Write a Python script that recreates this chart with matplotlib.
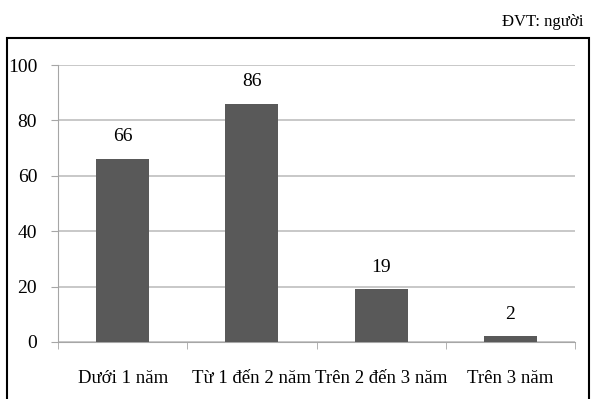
import numpy as np
import matplotlib
matplotlib.use("Agg")
import matplotlib.pyplot as plt
from matplotlib.patches import Rectangle

categories = ["Dưới 1 năm", "Từ 1 đến 2 năm", "Trên 2 đến 3 năm", "Trên 3 năm"]
values = [66, 86, 19, 2]
yticks = [0, 20, 40, 60, 80, 100]

plt.rcParams['font.family'] = ['Liberation Serif', 'DejaVu Serif']

W, H = 594, 399
fig = plt.figure(figsize=(W / 100, H / 100), dpi=100)

# outer frame
fig.patches.append(Rectangle((7 / W, -0.05), 582 / W, (H - 38) / H + 0.05,
                             transform=fig.transFigure, fill=False,
                             edgecolor='black', linewidth=1.5))
fig.text(583 / W, 1 - 22 / H, "ĐVT: người", ha='right', va='center', fontsize=12)

ax = fig.add_axes([58 / W, 57 / H, (575 - 58) / W, (342 - 65) / H])
x = np.arange(len(categories))
bars = ax.bar(x, values, width=0.41, color='#595959', zorder=3)
for xi, v in zip(x, values):
    ax.text(xi, v + 5, str(v), ha='center', va='bottom', fontsize=14)

ax.set_xlim(-0.5, len(categories) - 0.5)
ax.set_ylim(0, 100)
ax.set_yticks(yticks)
ax.set_yticklabels([str(t) for t in yticks], fontsize=14)
ax.set_xticks(x)
ax.set_xticklabels(categories, fontsize=13.5)
ax.set_xticks(np.arange(-0.5, len(categories)), minor=True)
ax.tick_params(axis='x', which='major', length=0, pad=20)
ax.tick_params(axis='x', which='minor', length=5, color='#a6a6a6', direction='out')
ax.tick_params(axis='y', length=5, color='#a6a6a6', pad=10)
ax.grid(axis='y', color='#bfbfbf', linewidth=1.2, zorder=0)
for s in ['top', 'right']:
    ax.spines[s].set_visible(False)
ax.spines['left'].set_color('#a6a6a6')
ax.spines['bottom'].set_color('#a6a6a6')

fig.savefig("out.png", dpi=100)
